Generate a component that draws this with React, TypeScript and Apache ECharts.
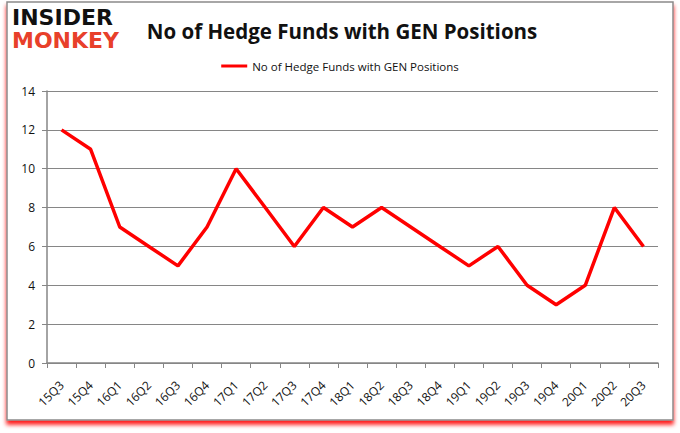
import React, { useEffect, useRef } from "react";
import * as echarts from "echarts";

const categories = ["15Q3","15Q4","16Q1","16Q2","16Q3","16Q4","17Q1","17Q2","17Q3","17Q4","18Q1","18Q2","18Q3","18Q4","19Q1","19Q2","19Q3","19Q4","20Q1","20Q2","20Q3"];
const hedgeFunds = [12, 11, 7, 6, 5, 7, 10, 8, 6, 8, 7, 8, 7, 6, 5, 6, 4, 3, 4, 8, 6];
const seriesName = "No of Hedge Funds with GEN Positions";
const titleText = "No of Hedge Funds with GEN Positions";

export default function App() {
  const ref = useRef<HTMLDivElement>(null);
  useEffect(() => {
    if (!ref.current) return;
    const chart = echarts.init(ref.current, null, { renderer: "svg" });
    chart.setOption({
      animation: false,
      backgroundColor: "#ffffff",
      graphic: [
        {
          type: "rect",
          z: -10,
          shape: { x: 7, y: 2, width: 666, height: 418 },
          style: {
            fill: "#ffffff",
            stroke: "#8a8a8a",
            lineWidth: 1.5,
            shadowColor: "rgba(255,0,0,0.9)",
            shadowBlur: 4,
            shadowOffsetX: 0,
            shadowOffsetY: 4,
          },
        },
        {
          type: "text",
          x: 12,
          y: 7,
          style: {
            text: "INSIDER",
            fill: "#111111",
            font: "900 22px 'DejaVu Sans'",
            lineHeight: 21,
          },
        },
        {
          type: "text",
          x: 12,
          y: 30,
          style: {
            text: "MONKEY",
            fill: "#e8402a",
            font: "900 22px 'DejaVu Sans'",
            lineHeight: 21,
          },
        },
      ],
      title: {
        text: titleText,
        left: 337,
        top: 15,
        textAlign: "center",
        textStyle: {
          fontFamily: "'Open Sans'",
          fontWeight: "bold",
          fontSize: 20.5,
          color: "#111111",
        },
      },
      legend: {
        top: 55,
        left: "center",
        itemWidth: 26,
        itemHeight: 3,
        icon: "rect",
        itemGap: 5,
        textStyle: {
          fontFamily: "'Open Sans'",
          fontSize: 11.5,
          color: "#111111",
        },
        data: [seriesName],
      },
      grid: { left: 47, right: 22, top: 91, bottom: 70, containLabel: false },
      xAxis: {
        type: "category",
        data: categories,
        boundaryGap: true,
        axisLine: { lineStyle: { color: "#868686", width: 1.5 } },
        axisTick: { show: true, length: 5, alignWithLabel: false, lineStyle: { color: "#868686" } },
        axisLabel: {
          rotate: 45,
          interval: 0,
          margin: 20,
          fontFamily: "'Open Sans'",
          fontSize: 12,
          color: "#111111",
        },
      },
      yAxis: {
        type: "value",
        min: 0,
        max: 14,
        interval: 2,
        axisLine: { show: true, lineStyle: { color: "#868686", width: 1.5 } },
        axisTick: { show: true, length: 5, lineStyle: { color: "#868686" } },
        axisLabel: {
          margin: 12,
          fontFamily: "'Open Sans'",
          fontSize: 12,
          color: "#111111",
        },
        splitLine: { lineStyle: { color: "#868686", width: 1.2 } },
      },
      series: [
        {
          name: seriesName,
          type: "line",
          data: hedgeFunds,
          showSymbol: false,
          symbol: "none",
          lineStyle: { color: "#ff0000", width: 3.5 },
          itemStyle: { color: "#ff0000" },
        },
      ],
    });
    return () => chart.dispose();
  }, []);
  return <div ref={ref} style={{ width: 680, height: 433, position: "absolute", left: 0, top: 0 }} />;
}
